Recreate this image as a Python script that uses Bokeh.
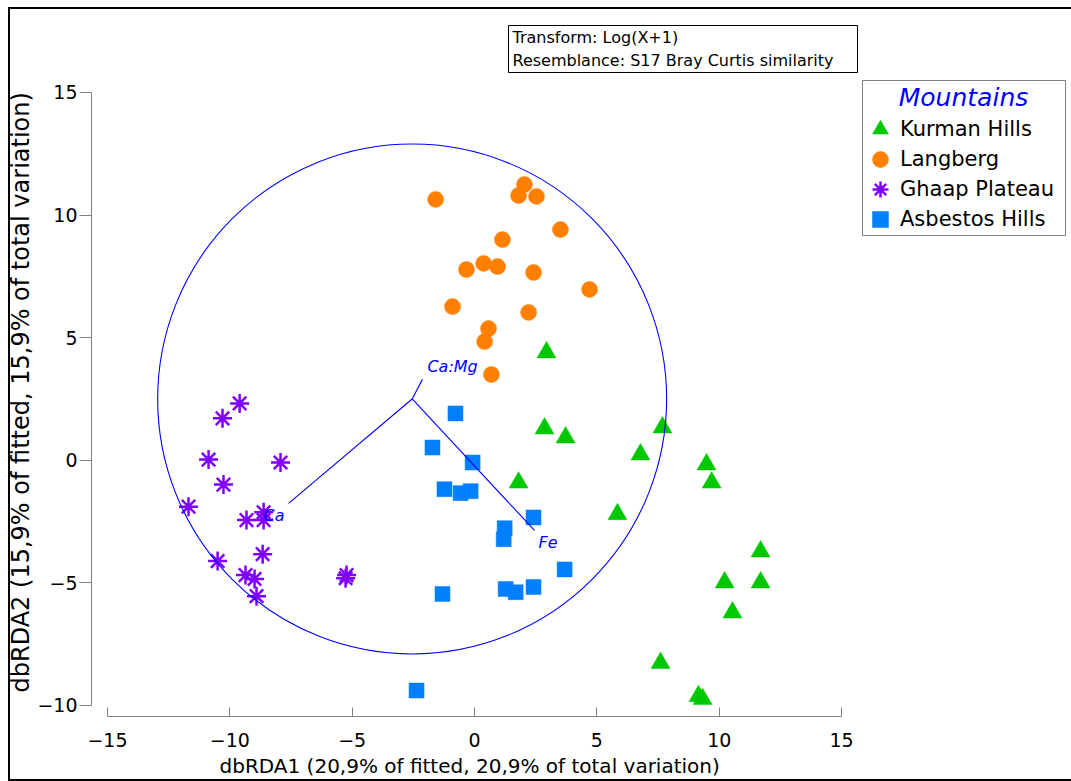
from bokeh.plotting import figure
from bokeh.models import (BoxAnnotation, Label, Legend, LegendItem, FixedTicker,
                          ColumnDataSource, Range1d, Title)
from bokeh.core.properties import value
from bokeh.embed import file_html
from bokeh.resources import INLINE

# ---------------- data ----------------
group_names = ["Kurman Hills", "Langberg", "Ghaap Plateau", "Asbestos Hills"]

kurman_x = [2.94, 2.86, 3.72, 1.80, 7.68, 6.78, 9.48, 9.69, 5.84, 11.69, 10.22, 11.69, 10.54, 7.60, 9.15, 9.32]
kurman_y = [4.40, 1.30, 0.93, -0.91, 1.34, 0.24, -0.17, -0.91, -2.20, -3.72, -4.98, -4.98, -6.21, -8.27, -9.62, -9.74]

langberg_x = [-1.59, 2.04, 1.80, 2.53, 3.51, 1.14, -0.33, 0.37, 0.94, 2.41, 4.70, -0.90, 2.21, 0.57, 0.41, 0.69]
langberg_y = [10.64, 11.25, 10.80, 10.76, 9.41, 9.00, 7.78, 8.03, 7.90, 7.66, 6.97, 6.27, 6.03, 5.37, 4.84, 3.50]

ghaap_x = [-9.60, -10.30, -10.87, -7.93, -10.26, -11.69, -9.32, -8.62, -8.62, -8.66, -10.50, -9.36, -8.99, -8.91, -5.27, -5.23]
ghaap_y = [2.32, 1.71, 0.03, -0.09, -0.99, -1.89, -2.44, -2.12, -2.44, -3.83, -4.11, -4.68, -4.84, -5.54, -4.81, -4.68]

asbestos_x = [-0.78, -1.72, -0.08, -1.23, -0.57, -0.16, 2.41, 1.23, 1.19, 3.68, -1.31, 1.27, 1.68, 2.41, -2.37]
asbestos_y = [1.91, 0.52, -0.09, -1.18, -1.34, -1.26, -2.33, -2.77, -3.22, -4.45, -5.45, -5.25, -5.38, -5.17, -9.39]

# dbRDA vectors (origin = centre of the correlation circle)
vector_origin = (-2.55, 2.50)
circle_radius = 10.4
vector_names = ["Ca:Mg", "Ca", "Fe"]
vector_end_x = [-2.13, -7.60, 2.45]
vector_end_y = [3.30, -1.76, -2.86]

x_ticks = [-15, -10, -5, 0, 5, 10, 15]
y_ticks = [-10, -5, 0, 5, 10, 15]

x_title = "dbRDA1 (20,9% of fitted, 20,9% of total variation)"
y_title = "dbRDA2 (15,9% of fitted, 15,9% of total variation)"
note_lines = ["Transform: Log(X+1)", "Resemblance: S17 Bray Curtis similarity"]
legend_title = "Mountains"

# ---------------- styles ----------------
FONT = "DejaVu Sans"
GREEN = "#00C800"
ORANGE = "#FF8000"
PURPLE = "#8000FF"
BLUE_SQ = "#0080FF"
VEC_BLUE = "#0000FF"
AXIS_GREY = "#808080"

p = figure(width=1071, height=781, output_backend="svg", toolbar_location=None,
           x_range=Range1d(-15.654, 24.395), y_range=Range1d(-10.449, 18.752),
           min_border_left=91, min_border_right=0, min_border_top=0, min_border_bottom=65)
p.outline_line_color = None
p.grid.visible = False
p.background_fill_alpha = 0
p.border_fill_alpha = 0
# outer window frame (left, top and bottom edges) drawn with CSS inset shadows
p.styles = {"box-shadow": ("inset 8px 0 0 white, inset 0 7px 0 white, "
                           "inset 10px 0 0 black, inset 0 9px 0 black, inset 0 -2px 0 black")}

# axes
xa = p.xaxis[0]
xa.ticker = FixedTicker(ticks=x_ticks)
xa.bounds = (x_ticks[0], x_ticks[-1])
xa.major_tick_in = 9
xa.major_tick_out = 0
xa.minor_tick_in = 0
xa.minor_tick_out = 0
xa.major_label_standoff = 16

ya = p.yaxis[0]
ya.ticker = FixedTicker(ticks=y_ticks)
ya.bounds = (y_ticks[0], y_ticks[-1])
ya.major_tick_in = 0
ya.major_tick_out = 12
ya.minor_tick_in = 0
ya.minor_tick_out = 0
ya.major_label_standoff = 2
ya.major_label_orientation = "horizontal"

for ax in (xa, ya):
    ax.axis_line_color = AXIS_GREY
    ax.major_tick_line_color = AXIS_GREY
    ax.major_label_text_font = FONT
    ax.major_label_text_font_size = "19px"
    ax.major_label_text_color = "black"

# axis titles (placed as titles so they centre on the axes, not on the frame)
p.add_layout(Title(text=x_title, align="left", offset=128, standoff=4,
                   text_font=FONT, text_font_size="20px", text_font_style="normal",
                   text_color="black"), "below")
p.add_layout(Title(text=y_title, align="left", offset=24, standoff=0,
                   text_font=FONT, text_font_size="24px", text_font_style="normal",
                   text_color="black"), "left")

# scatter groups
r_k = p.scatter(kurman_x, kurman_y, marker="triangle", size=19,
                fill_color=GREEN, line_color=GREEN, line_width=0.5)
r_l = p.scatter(langberg_x, langberg_y, marker="circle", size=16,
                fill_color=ORANGE, line_color=ORANGE, line_width=0.5)
r_g = p.scatter(ghaap_x, ghaap_y, marker="asterisk", size=19,
                line_color=PURPLE, line_width=2.5)
r_a = p.scatter(asbestos_x, asbestos_y, marker="square", size=15,
                fill_color=BLUE_SQ, line_color=BLUE_SQ, line_width=0.5)

# correlation circle and vectors
p.ellipse(x=[vector_origin[0]], y=[vector_origin[1]],
          width=[2 * circle_radius], height=[2 * circle_radius],
          fill_color=None, line_color=VEC_BLUE, line_width=1.1)
n_vec = len(vector_names)
vec_src = ColumnDataSource(dict(
    x0=[vector_origin[0]] * n_vec, y0=[vector_origin[1]] * n_vec,
    x1=vector_end_x, y1=vector_end_y, name=vector_names,
    dx=[5, -25, 4], dy=[-13, 12, 12],
))
p.segment(x0="x0", y0="y0", x1="x1", y1="y1", source=vec_src,
          line_color=VEC_BLUE, line_width=1.1)
p.text(x="x1", y="y1", text="name", source=vec_src, x_offset="dx", y_offset="dy",
       text_font=value(FONT), text_font_style="italic", text_font_size="16px",
       text_color=VEC_BLUE, text_align="left", text_baseline="middle")

# legend: one single-item legend per row so that rows sit 30 px apart with large markers
row_bottoms = [565, 535, 505, 475]
for name, rend, yb in zip(group_names, [r_k, r_l, r_g, r_a], row_bottoms):
    lg = Legend(items=[LegendItem(label=name, renderers=[rend])],
                location=(769, yb), glyph_width=40, glyph_height=44, label_height=44,
                spacing=0, label_standoff=0, padding=0, margin=0,
                border_line_color=None, background_fill_alpha=0,
                label_text_font=FONT, label_text_font_size="21px",
                label_text_color="black")
    p.add_layout(lg)

p.add_layout(BoxAnnotation(left=862, right=1065, top=80, bottom=235,
                           left_units="canvas", right_units="canvas",
                           top_units="canvas", bottom_units="canvas",
                           fill_color=None, fill_alpha=0, line_color=AXIS_GREY,
                           line_alpha=1, line_width=1, line_dash="solid"))
p.add_layout(Label(x=872, y=619, x_units="screen", y_units="screen", text=legend_title,
                   text_font=FONT, text_font_style="italic", text_font_size="25px",
                   text_color=VEC_BLUE, text_align="center", text_baseline="middle"))

# note box
p.add_layout(BoxAnnotation(left=508, right=857, top=25, bottom=72,
                           left_units="canvas", right_units="canvas",
                           top_units="canvas", bottom_units="canvas",
                           fill_color="white", fill_alpha=1, line_color="black",
                           line_alpha=1, line_width=1, line_dash="solid"))
for i, txt in enumerate(note_lines):
    p.add_layout(Label(x=421, y=679 - 23 * i, x_units="screen", y_units="screen", text=txt,
                       text_font=FONT, text_font_size="16px", text_color="black",
                       text_align="left", text_baseline="middle"))

open("out.html", "w").write(file_html(p, INLINE))
